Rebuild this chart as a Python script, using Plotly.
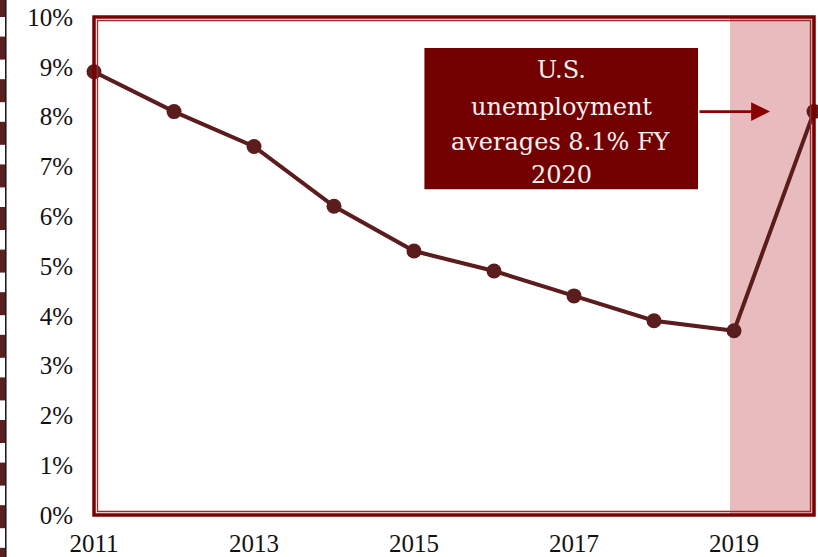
import plotly.graph_objects as go

# Annual average U.S. unemployment rate (%)
years = [2011, 2012, 2013, 2014, 2015, 2016, 2017, 2018, 2019, 2020]
unemployment = [8.9, 8.1, 7.4, 6.2, 5.3, 4.9, 4.4, 3.9, 3.7, 8.1]

x_ticks = [2011, 2013, 2015, 2017, 2019]
y_ticks = [0, 1, 2, 3, 4, 5, 6, 7, 8, 9, 10]
y_tick_text = [f"{v}%" for v in y_ticks]

callout_lines = ["U.S.", "unemployment", "averages 8.1% FY", "2020"]
callout_value = 8.1
forecast_start, forecast_end = 2019, 2020

W, H = 818, 557
M_L, M_R, M_T, M_B = 94, 4, 17, 42
plot_w, plot_h = W - M_L - M_R, H - M_T - M_B

LINE = "#5a1c1c"
FRAME = "#7a0000"
BOX = "#730000"
SHADE = "#e8bcbf"

fig = go.Figure()

fig.add_trace(go.Scatter(
    x=years, y=unemployment, mode="lines+markers",
    line=dict(color=LINE, width=4),
    marker=dict(color=LINE, size=15),
    cliponaxis=False, showlegend=False, hoverinfo="skip",
))

shapes = []

# shaded forecast year
shapes.append(dict(type="rect", xref="x", yref="paper",
                   x0=forecast_start - 0.05, x1=forecast_end, y0=0, y1=1,
                   fillcolor=SHADE, line=dict(width=0), layer="below"))

# double frame around the plot area
shapes.append(dict(type="rect", xref="paper", yref="paper", x0=0, x1=1, y0=0, y1=1,
                   line=dict(color=FRAME, width=3.5), layer="above"))
shapes.append(dict(type="rect", xref="paper", yref="paper",
                   xsizemode="pixel", ysizemode="pixel", xanchor=0, yanchor=0,
                   x0=3.5, x1=plot_w - 3.5, y0=3.5, y1=plot_h - 3.5,
                   line=dict(color="#a02828", width=1.3), layer="above"))

# dashed strip on the left page edge
period, dash_len = 42.6, 23
top = -6.0
while top < H:
    shapes.append(dict(type="rect", xref="paper", yref="paper",
                       xsizemode="pixel", ysizemode="pixel", xanchor=0, yanchor=1,
                       x0=-M_L, x1=-M_L + 5, y0=M_T - top, y1=M_T - (top + dash_len),
                       fillcolor="#5b1f1f", line=dict(width=0), layer="above"))
    top += period
shapes.append(dict(type="line", xref="paper", yref="paper",
                   xsizemode="pixel", ysizemode="pixel", xanchor=0, yanchor=1,
                   x0=-M_L + 5.8, x1=-M_L + 5.8, y0=M_T, y1=M_T - H,
                   line=dict(color="#111111", width=1.5), layer="above"))

# callout box
shapes.append(dict(type="rect", xref="x", yref="y",
                   x0=2015.13, x1=2018.55, y0=6.54, y1=9.38,
                   fillcolor=BOX, line=dict(width=0), layer="above"))

annotations = []
line_y = [8.94, 8.2, 7.5, 6.82]
for txt, yy in zip(callout_lines, line_y):
    annotations.append(dict(x=2016.84, y=yy, xref="x", yref="y", text=txt,
                            showarrow=False, xanchor="center", yanchor="middle",
                            font=dict(family="DejaVu Serif", size=24, color="#f8f0f0")))

# arrow pointing to the 2020 value
annotations.append(dict(x=2019.45, y=callout_value, ax=2018.55, ay=callout_value,
                        xref="x", yref="y", axref="x", ayref="y", text="",
                        showarrow=True, arrowhead=2, arrowsize=1.4, arrowwidth=2.7,
                        arrowcolor="#8b0000"))

tick_font = dict(family="Liberation Serif", size=25, color="#111111")

fig.update_layout(
    width=W, height=H,
    margin=dict(l=M_L, r=M_R, t=M_T, b=M_B, pad=0),
    paper_bgcolor="white", plot_bgcolor="white",
    shapes=shapes, annotations=annotations,
    xaxis=dict(range=[2011, 2020], tickvals=x_ticks, ticktext=[str(v) for v in x_ticks],
               showgrid=False, zeroline=False, showline=False, ticks="",
               tickfont=tick_font, ticklabelstandoff=11, automargin=False),
    yaxis=dict(range=[0, 10], tickvals=y_ticks, ticktext=y_tick_text,
               showgrid=False, zeroline=False, showline=False, ticks="",
               tickfont=tick_font, ticklabelstandoff=20, automargin=False),
)

fig.write_html("out.html")
